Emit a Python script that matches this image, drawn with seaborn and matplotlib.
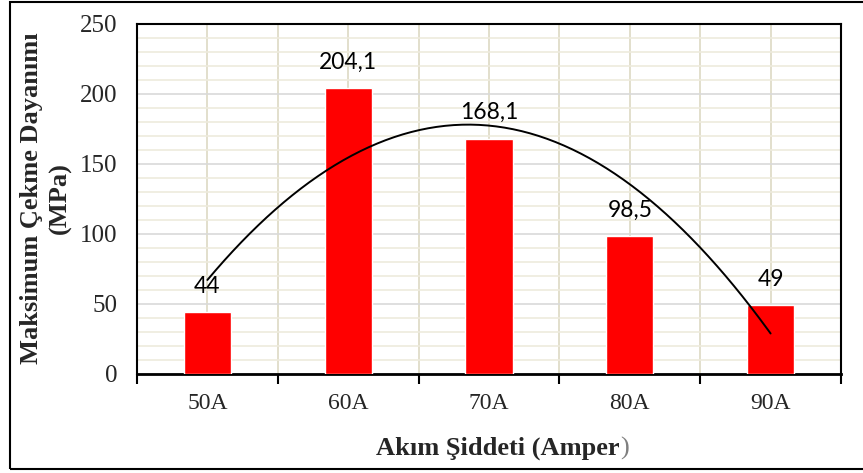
import numpy as np
import pandas as pd
import matplotlib
matplotlib.use("Agg")
import matplotlib.pyplot as plt
import seaborn as sns
from matplotlib.ticker import MultipleLocator, FixedLocator
from matplotlib.patches import Rectangle

# Tensile strength by welding current
akim = ["50A", "60A", "70A", "80A", "90A"]
dayanim = [44, 204.1, 168.1, 98.5, 49]
etiketler = ["44", "204,1", "168,1", "98,5", "49"]

df = pd.DataFrame({"akim": akim, "dayanim": dayanim})

sns.set_style("white")
plt.rcParams["font.family"] = ["Liberation Serif", "DejaVu Serif"]

fig = plt.figure(figsize=(8.63, 4.73), dpi=100)
ax = fig.add_axes([137 / 863, 1 - 374 / 473, (841 - 137) / 863, (374 - 24) / 473])

sns.barplot(data=df, x="akim", y="dayanim", color="#FF0000", width=0.335,
            saturation=1, ax=ax, zorder=3)

# second-order polynomial trendline through the bar values
xs = np.arange(len(dayanim))
coef = np.polyfit(xs, dayanim, 2)
xf = np.linspace(0, len(dayanim) - 1, 200)
ax.plot(xf, np.polyval(coef, xf), color="black", lw=1.4, zorder=4)

# value labels above the bars
for i, (v, t) in enumerate(zip(dayanim, etiketler)):
    ax.annotate(t, (i, v), xytext=(0, 18.7), textcoords="offset points",
                ha="center", va="center", fontsize=16.5, family="Lato",
                color="black", zorder=5)

ax.set_ylim(0, 250)
ax.set_xlim(-0.5, len(akim) - 0.5)
ax.yaxis.set_major_locator(MultipleLocator(50))
ax.yaxis.set_minor_locator(MultipleLocator(10))
ax.xaxis.set_minor_locator(FixedLocator(np.arange(-0.5, len(akim), 1.0)))

ax.set_axisbelow(True)
ax.yaxis.grid(True, which="major", color="#D9D9D9", lw=1.2)
ax.yaxis.grid(True, which="minor", color="#EEEBDD", lw=1.2)
ax.xaxis.grid(True, which="both", color="#DDD9C3", lw=1.2)

ax.tick_params(axis="y", which="both", length=0, labelsize=18, pad=14)
ax.tick_params(axis="x", which="major", length=0, labelsize=17, pad=14)
ax.tick_params(axis="x", which="minor", length=7, width=1.5, direction="out",
               color="black", bottom=True)

for s in ax.spines.values():
    s.set_visible(True)
    s.set_color("black")
    s.set_linewidth(1.5)
ax.spines["bottom"].set_linewidth(2)

ax.set_xlabel("")
ax.set_ylabel("")

# x axis title, closing parenthesis drawn in grey
lab = fig.text(498 / 863, 1 - 448 / 473, "Akım Şiddeti (Amper",
               ha="center", va="center", fontsize=19, fontweight="bold")
fig.canvas.draw()
bb = lab.get_window_extent()
fig.text(bb.x1 / fig.bbox.width, 1 - 448 / 473, ")", ha="left", va="center",
         fontsize=19, color="#7F7F7F")

fig.text(46 / 863, 1 - 198 / 473, "Maksimum Çekme Dayanımı\n(MPa)",
         rotation=90, ha="center", va="center", fontsize=19,
         fontweight="bold", linespacing=1.3, multialignment="center")

# outer frame
fig.patches.append(Rectangle((10 / 863, 4 / 473), 1.2, 1 - 6 / 473,
                             transform=fig.transFigure, fill=False,
                             edgecolor="black", lw=1.5))

fig.savefig("out.png", dpi=100)
